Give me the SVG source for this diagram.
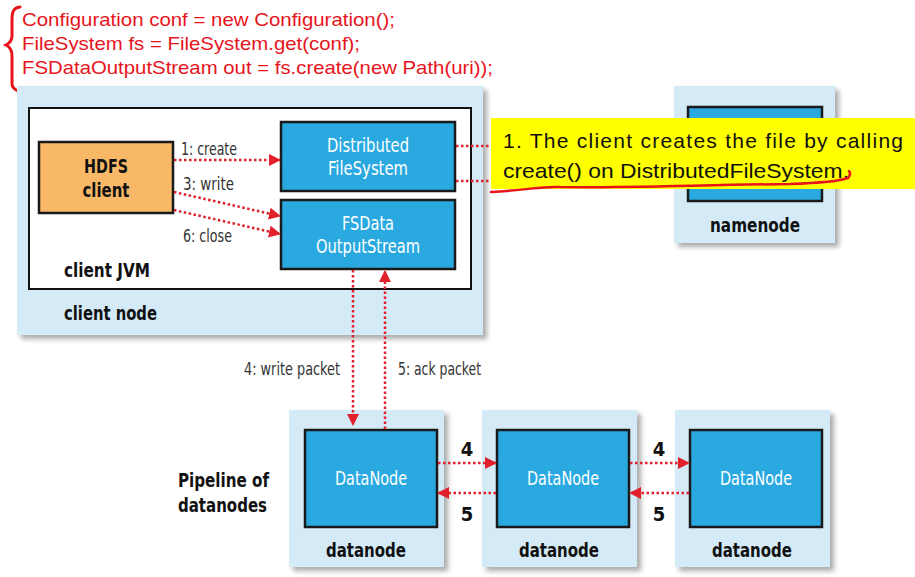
<svg xmlns="http://www.w3.org/2000/svg" width="915" height="577" viewBox="0 0 915 577">
<defs>
<filter id="sh" x="-5%" y="-5%" width="115%" height="115%"><feGaussianBlur stdDeviation="2.5"/></filter>
<marker id="ah" viewBox="0 0 12 12" refX="11" refY="6" markerWidth="12" markerHeight="12" markerUnits="userSpaceOnUse" orient="auto"><path d="M0,0 L12,6 L0,12 Z" fill="#e0202a"/></marker>
</defs>
<style>
.node{fill:#d4ebf7}
.shadow{fill:#888;opacity:0.7}
.blue{fill:#29a9e0;stroke:#1a1a1a;stroke-width:2.5}
.t{font-family:"DejaVu Sans Condensed","DejaVu Sans",sans-serif;font-stretch:condensed}
.b{font-weight:bold;fill:#111;font-size:20px}
.w{fill:#fff;font-size:20px}
.lab{fill:#333;font-size:17px}
.dot{stroke:#e0202a;stroke-width:2.5;stroke-dasharray:2.5 2.5;fill:none}
.code{font-family:"Liberation Sans",Arial,sans-serif;font-size:19px;fill:#e8141c}
</style>

<g id="code">
<path d="M20,7 C13,8 12,12 12,20 L12,36 C12,41 10,43 6,45 C10,47 12,50 12,56 L12,84 C12,88 15,90 20,92" fill="none" stroke="#e8141c" stroke-width="3" stroke-linecap="round"/>
<text class="code" x="22" y="26" textLength="373" lengthAdjust="spacingAndGlyphs">Configuration conf = new Configuration();</text>
<text class="code" x="22" y="50" textLength="338" lengthAdjust="spacingAndGlyphs">FileSystem fs = FileSystem.get(conf);</text>
<text class="code" x="22" y="74" textLength="471" lengthAdjust="spacingAndGlyphs">FSDataOutputStream out = fs.create(new Path(uri));</text>
</g>

<g id="client-node">
<rect class="shadow" x="21" y="90" width="466" height="249" filter="url(#sh)"/>
<rect class="node" x="17" y="86" width="466" height="249"/>
<text class="t b" x="64" y="320" textLength="93" lengthAdjust="spacingAndGlyphs">client node</text>
</g>
<g id="client-jvm">
<rect x="29" y="108" width="442" height="181" fill="#fff" stroke="#111" stroke-width="2"/>
<text class="t b" x="64" y="277" textLength="86" lengthAdjust="spacingAndGlyphs">client JVM</text>
</g>
<g id="hdfs-client">
<rect x="39" y="142" width="134" height="71" fill="#f9b868" stroke="#1a1a1a" stroke-width="2.5"/>
<text class="t b" x="106" y="173" text-anchor="middle" font-size="22" textLength="44" lengthAdjust="spacingAndGlyphs">HDFS</text>
<text class="t b" x="106" y="197" text-anchor="middle" font-size="22" textLength="47" lengthAdjust="spacingAndGlyphs">client</text>
</g>
<g id="dfs">
<rect class="blue" x="281" y="122" width="174" height="69"/>
<text class="t w" x="368" y="152" text-anchor="middle" textLength="82" lengthAdjust="spacingAndGlyphs">Distributed</text>
<text class="t w" x="368" y="175" text-anchor="middle" textLength="80" lengthAdjust="spacingAndGlyphs">FileSystem</text>
</g>
<g id="fsdos">
<rect class="blue" x="281" y="200" width="174" height="69"/>
<text class="t w" x="368" y="230" text-anchor="middle" textLength="52" lengthAdjust="spacingAndGlyphs">FSData</text>
<text class="t w" x="368" y="253" text-anchor="middle" textLength="104" lengthAdjust="spacingAndGlyphs">OutputStream</text>
</g>

<g id="namenode">
<rect class="shadow" x="678" y="90" width="161" height="157" filter="url(#sh)"/>
<rect class="node" x="674" y="86" width="161" height="157"/>
<rect class="blue" x="688" y="107" width="134" height="94"/>
<text class="t b" x="755" y="232" text-anchor="middle" textLength="90" lengthAdjust="spacingAndGlyphs">namenode</text>
</g>

<g id="datanode1">
<rect class="shadow" x="293" y="414" width="155" height="157" filter="url(#sh)"/>
<rect class="node" x="289" y="410" width="155" height="157"/>
<rect class="blue" x="305" y="430" width="132" height="97"/>
<text class="t w" x="371" y="485" text-anchor="middle" textLength="72" lengthAdjust="spacingAndGlyphs">DataNode</text>
<text class="t b" x="366" y="557" text-anchor="middle" textLength="80" lengthAdjust="spacingAndGlyphs">datanode</text>
</g>
<g id="datanode2">
<rect class="shadow" x="486" y="414" width="155" height="157" filter="url(#sh)"/>
<rect class="node" x="482" y="410" width="155" height="157"/>
<rect class="blue" x="497" y="430" width="132" height="97"/>
<text class="t w" x="563" y="485" text-anchor="middle" textLength="72" lengthAdjust="spacingAndGlyphs">DataNode</text>
<text class="t b" x="559" y="557" text-anchor="middle" textLength="80" lengthAdjust="spacingAndGlyphs">datanode</text>
</g>
<g id="datanode3">
<rect class="shadow" x="679" y="414" width="155" height="157" filter="url(#sh)"/>
<rect class="node" x="675" y="410" width="155" height="157"/>
<rect class="blue" x="690" y="430" width="132" height="97"/>
<text class="t w" x="756" y="485" text-anchor="middle" textLength="72" lengthAdjust="spacingAndGlyphs">DataNode</text>
<text class="t b" x="752" y="557" text-anchor="middle" textLength="80" lengthAdjust="spacingAndGlyphs">datanode</text>
</g>

<g id="pipeline-label">
<text class="t b" x="178" y="487" textLength="91" lengthAdjust="spacingAndGlyphs">Pipeline of</text>
<text class="t b" x="178" y="512" textLength="89" lengthAdjust="spacingAndGlyphs">datanodes</text>
</g>

<g id="connectors">
<line class="dot" x1="174" y1="160" x2="280" y2="160" marker-end="url(#ah)"/>
<line class="dot" x1="174" y1="192" x2="280" y2="216" marker-end="url(#ah)"/>
<line class="dot" x1="174" y1="210" x2="280" y2="234" marker-end="url(#ah)"/>
<line class="dot" x1="456" y1="146" x2="495" y2="146"/>
<line class="dot" x1="456" y1="181" x2="495" y2="181"/>
<line class="dot" x1="353" y1="270" x2="353" y2="425" marker-end="url(#ah)"/>
<line class="dot" x1="385" y1="429" x2="385" y2="271" marker-end="url(#ah)"/>
<line class="dot" x1="438" y1="463" x2="496" y2="463" marker-end="url(#ah)"/>
<line class="dot" x1="496" y1="493" x2="438" y2="493" marker-end="url(#ah)"/>
<line class="dot" x1="630" y1="463" x2="689" y2="463" marker-end="url(#ah)"/>
<line class="dot" x1="689" y1="493" x2="630" y2="493" marker-end="url(#ah)"/>
<text class="t lab" x="181" y="155" textLength="56" lengthAdjust="spacingAndGlyphs">1: create</text>
<text class="t lab" x="183" y="190" textLength="51" lengthAdjust="spacingAndGlyphs">3: write</text>
<text class="t lab" x="183" y="242" textLength="49" lengthAdjust="spacingAndGlyphs">6: close</text>
<text class="t lab" x="340" y="375" text-anchor="end" textLength="96" lengthAdjust="spacingAndGlyphs">4: write packet</text>
<text class="t lab" x="398" y="375" textLength="83" lengthAdjust="spacingAndGlyphs">5: ack packet</text>
<text class="t b" x="467" y="456" font-size="18" text-anchor="middle">4</text>
<text class="t b" x="467" y="521" font-size="18" text-anchor="middle">5</text>
<text class="t b" x="659" y="456" font-size="18" text-anchor="middle">4</text>
<text class="t b" x="659" y="521" font-size="18" text-anchor="middle">5</text>
</g>

<g id="note">
<rect x="491" y="118" width="424" height="71" fill="#ffff00"/>
<text x="503" y="148" font-family="'Liberation Sans',Arial,sans-serif" font-size="21" fill="#111" textLength="400" lengthAdjust="spacing">1. The client creates the file by calling</text>
<text x="503" y="178" font-family="'Liberation Sans',Arial,sans-serif" font-size="21" fill="#111" textLength="346" lengthAdjust="spacingAndGlyphs">create() on DistributedFileSystem.</text>
<path d="M491,192 C530,190 540,186 560,187 C620,188 700,185 790,184 C820,183 840,181 848,178 C850,176 851,174 849,171" fill="none" stroke="#e8141c" stroke-width="2.5" stroke-linecap="round"/>
</g>
</svg>
